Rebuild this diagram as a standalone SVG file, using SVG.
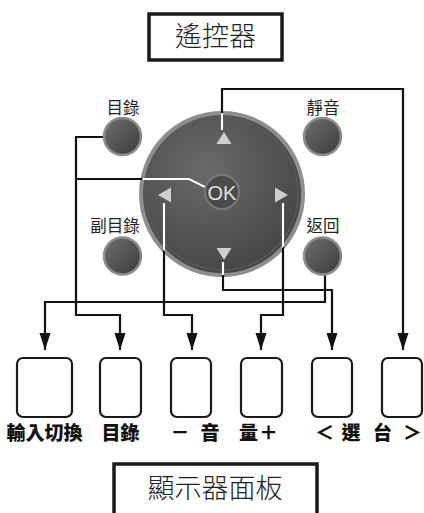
<svg xmlns="http://www.w3.org/2000/svg" width="424" height="513" viewBox="0 0 424 513">
<style>
.frame{fill:#fff;stroke:#1a1a1a;stroke-width:3.5}
.title{font-family:"Noto Sans CJK TC","Noto Sans CJK SC",sans-serif;font-weight:300;font-size:27px;fill:#222;text-anchor:middle}
.lbl{font-family:"Noto Sans CJK TC","Noto Sans CJK SC",sans-serif;font-size:16.5px;fill:#222;text-anchor:middle}
.blbl{font-family:"Noto Sans CJK TC","Noto Sans CJK SC",sans-serif;font-weight:900;font-size:19px;fill:#111;text-anchor:middle}
.key{fill:#fff;stroke:#1a1a1a;stroke-width:2.2}
.conn{fill:none;stroke:#111;stroke-width:2.2}
.connw{fill:none;stroke:#fff;stroke-width:2.2}
.btn{fill:url(#gb);stroke:#8c8c8c;stroke-width:2.5}
.tri{fill:#cfcfcf}
</style>
<defs>
<linearGradient id="gb" x1="0" y1="0" x2="1" y2="1">
<stop offset="0" stop-color="#6e6e6e"/>
<stop offset="1" stop-color="#3c3c3c"/>
</linearGradient>
<radialGradient id="gp" cx="0.4" cy="0.35" r="0.7">
<stop offset="0" stop-color="#6a6a6a"/>
<stop offset="1" stop-color="#444"/>
</radialGradient>
<clipPath id="cc"><circle cx="222" cy="194" r="81"/></clipPath>
<marker id="ad" markerUnits="userSpaceOnUse" markerWidth="18" markerHeight="12" refX="17" refY="6" orient="auto" viewBox="0 0 18 12">
<path d="M0,0.5 L17,6 L0,11.5 Z" fill="#111"/>
</marker>
</defs>
<rect width="424" height="513" fill="#fff"/>

<g id="remote-title">
<rect class="frame" x="149" y="14" width="133" height="46"/>
<text class="title" x="215.5" y="46">遙控器</text>
</g>

<g id="dpad">
<circle cx="222" cy="194" r="81" fill="url(#gp)" stroke="#8e8e8e" stroke-width="4"/>
<circle cx="222" cy="194" r="76" fill="none" stroke="#5a5a5a" stroke-width="1.5"/>
</g>

<g id="connectors">
<path class="conn" d="M222,130 V89 H403 V350" marker-end="url(#ad)"/>
<path class="conn" d="M103,137 H76 V315 H120 V350" marker-end="url(#ad)"/>
<path class="conn" d="M205,187 L189,179 H76"/>
<path class="conn" d="M164,203 V315 H192 V350" marker-end="url(#ad)"/>
<path class="conn" d="M223,262 V290 H332 V350" marker-end="url(#ad)"/>
<path class="conn" d="M283,203 V315 H261 V350" marker-end="url(#ad)"/>
<path class="conn" d="M325,275 V302 H45 V350" marker-end="url(#ad)"/>
<g clip-path="url(#cc)">
<path class="connw" d="M222,130 V89"/>
<path class="connw" d="M205,187 L189,179 H76"/>
<path class="connw" d="M164,203 V315"/>
<path class="connw" d="M223,262 V290"/>
<path class="connw" d="M283,203 V315"/>
</g>
</g>

<g id="dpad-keys">
<polygon class="tri" points="224,132 216.5,144 231.5,144"/>
<polygon class="tri" points="224,260 216.5,248 231.5,248"/>
<polygon class="tri" points="158,195 171,187.5 171,202.5"/>
<polygon class="tri" points="288,195 275,187.5 275,202.5"/>
</g>

<g id="ok">
<circle cx="222" cy="192" r="17" fill="#4a4a4a" stroke="#7a7a7a" stroke-width="2"/>
<text x="222" y="199.5" font-family="Liberation Sans, Arial, sans-serif" font-size="20" fill="#e0e0e0" text-anchor="middle">OK</text>
</g>

<g id="btn-menu">
<text class="lbl" x="123" y="114">目錄</text>
<circle class="btn" cx="122.5" cy="136.5" r="18.5"/>
</g>
<g id="btn-mute">
<text class="lbl" x="323" y="114">靜音</text>
<circle class="btn" cx="322.5" cy="136.5" r="18.5"/>
</g>
<g id="btn-submenu">
<text class="lbl" x="115" y="232">副目錄</text>
<circle class="btn" cx="122.5" cy="256" r="18.5"/>
</g>
<g id="btn-back">
<text class="lbl" x="323" y="232">返回</text>
<circle class="btn" cx="322.5" cy="256" r="18.5"/>
</g>

<g id="key-input">
<rect class="key" x="17" y="358" width="55" height="59" rx="6"/>
<text class="blbl" x="44.5" y="440">輸入切換</text>
</g>
<g id="key-menu">
<rect class="key" x="100" y="358" width="41" height="59" rx="6"/>
<text class="blbl" x="120.5" y="440">目錄</text>
</g>
<g id="key-voldown">
<rect class="key" x="171" y="358" width="40" height="59" rx="6"/>
<text class="blbl" x="180" y="440">－</text>
<text class="blbl" x="210" y="440">音</text>
</g>
<g id="key-volup">
<rect class="key" x="241" y="358" width="41" height="59" rx="6"/>
<text class="blbl" x="248.5" y="440">量</text>
<text class="blbl" x="268.5" y="440">＋</text>
</g>
<g id="key-chdown">
<rect class="key" x="312" y="358" width="40" height="59" rx="6"/>
<text class="blbl" x="324.5" y="440">＜</text>
<text class="blbl" x="351" y="440">選</text>
</g>
<g id="key-chup">
<rect class="key" x="382" y="358" width="40" height="59" rx="6"/>
<text class="blbl" x="382.5" y="440">台</text>
<text class="blbl" x="412.5" y="440">＞</text>
</g>

<g id="panel-title">
<rect class="frame" x="114" y="464" width="203" height="60"/>
<text class="title" x="215" y="498">顯示器面板</text>
</g>
</svg>
